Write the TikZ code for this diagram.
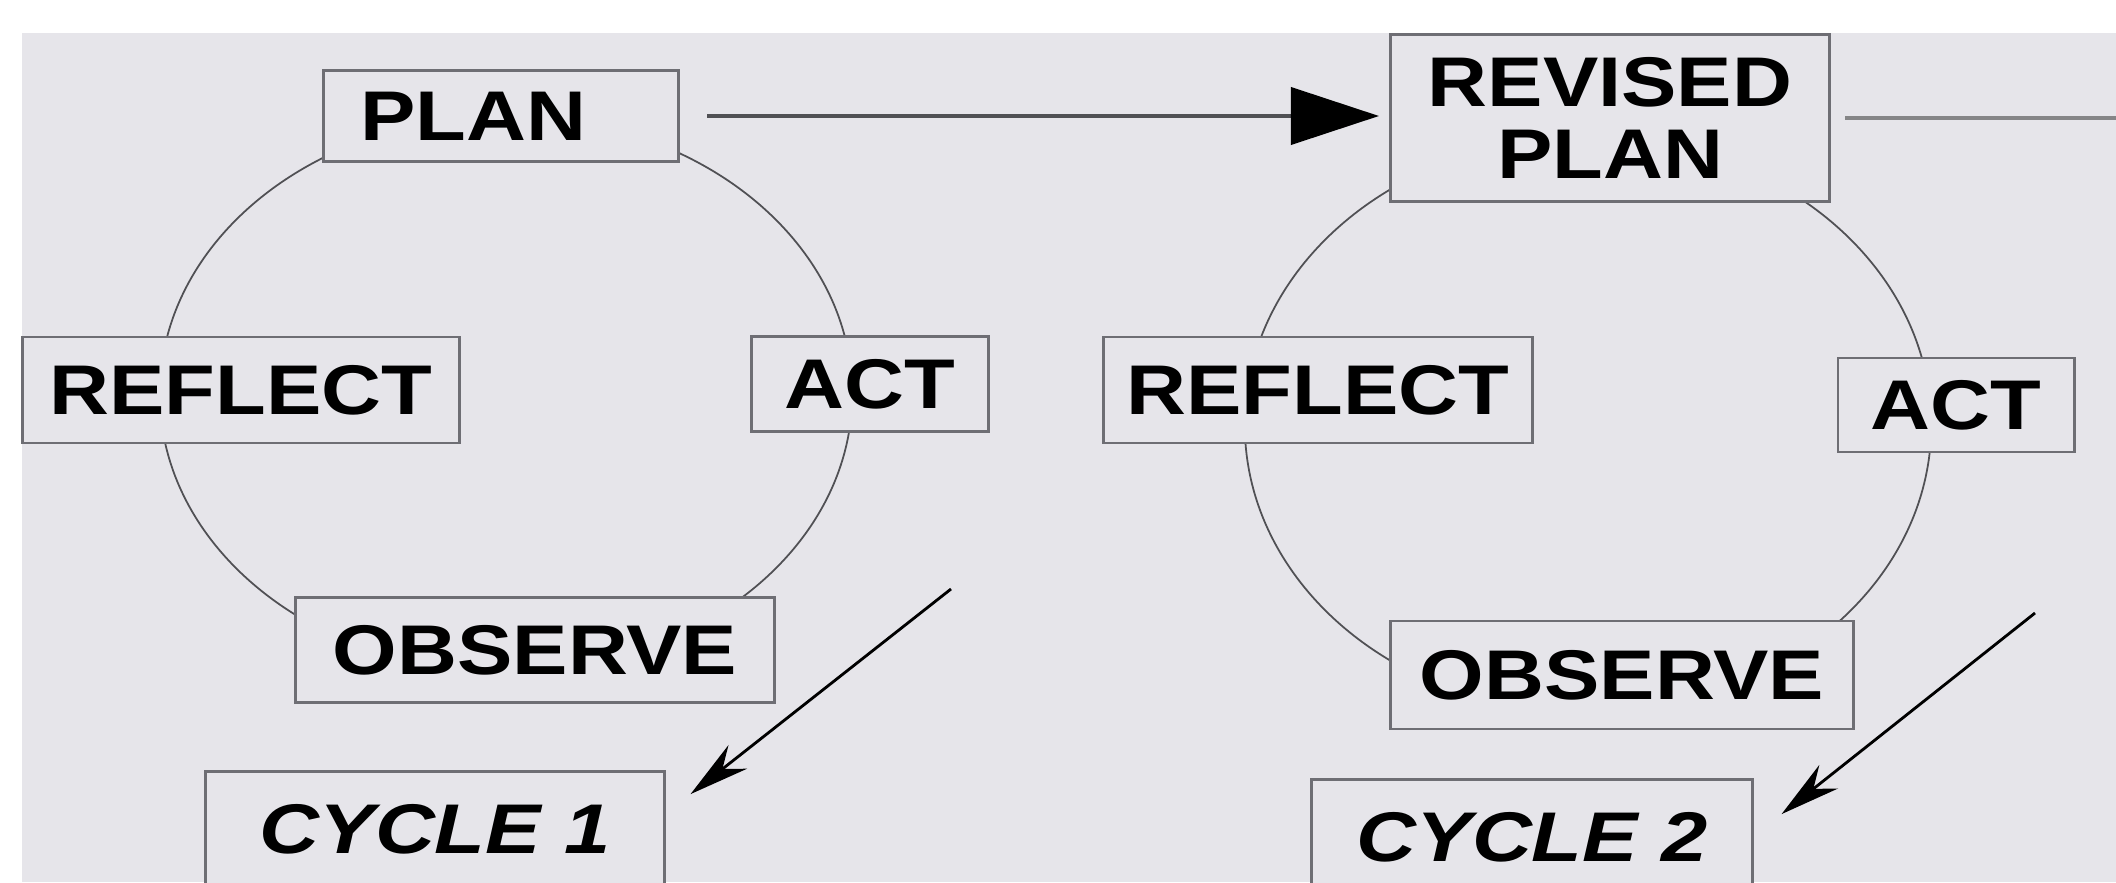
\documentclass[tikz,border=0pt]{standalone}
\usepackage{fontspec}
\setmainfont{Liberation Sans}[FakeStretch=1.18]
\usetikzlibrary{arrows.meta}
\definecolor{paper}{RGB}{230,229,234}
\definecolor{rim}{RGB}{110,110,116}
\definecolor{wire}{RGB}{80,80,84}
\tikzset{
  stage/.style={draw=rim, line width=0.8pt, fill=paper, inner sep=0pt, align=center,
    font=\fontsize{20}{20.5}\selectfont\bfseries},
  tag/.style={stage, font=\fontsize{20}{20.5}\selectfont\bfseries\itshape}
}
\begin{document}
\begin{tikzpicture}[x=0.01cm, y=-0.01cm]

      \useasboundingbox (0,0) rectangle (2116,882);
      \fill[paper] (22,33) rectangle (2116,882);

      \coordinate (hub1) at (506,394);
      \coordinate (hub2) at (1588,425);
      \draw[wire, line width=0.5pt] (hub1) ellipse [x radius=3.46cm, y radius=2.78cm];
      \draw[wire, line width=0.5pt] (hub2) ellipse [x radius=3.43cm, y radius=2.88cm];

      \node[stage, minimum width=3.55cm, minimum height=0.91cm] (plan1) at (501,116) {PLAN\hspace{0.56cm}};
      \node[stage, minimum width=4.37cm, minimum height=1.06cm] (reflect1) at (241,390) {REFLECT};
      \node[stage, minimum width=2.37cm, minimum height=0.95cm] (act1) at (870,384) {ACT};
      \node[stage, minimum width=4.79cm, minimum height=1.05cm] (observe1) at (535,650) {OBSERVE};
      \node[tag, minimum width=4.58cm, minimum height=1.15cm] (cycle1) at (435,829) {CYCLE 1};

      \node[stage, minimum width=4.39cm, minimum height=1.67cm] (plan2) at (1610,118) {REVISED\\PLAN};
      \node[stage, minimum width=4.28cm, minimum height=1.06cm] (reflect2) at (1318,390) {REFLECT};
      \node[stage, minimum width=2.36cm, minimum height=0.94cm] (act2) at (1956,405) {ACT};
      \node[stage, minimum width=4.63cm, minimum height=1.08cm] (observe2) at (1622,675) {OBSERVE};
      \node[tag, minimum width=4.40cm, minimum height=1.15cm] (cycle2) at (1532,837) {CYCLE 2};

      \draw[wire, line width=1.1pt, -{Triangle[length=0.88cm, width=0.57cm, color=black]},
        shorten <=0.27cm, shorten >=0.1cm] (plan1.east) -- (plan1.east -| plan2.west);
      \coordinate (beyond) at (2116,118);
      \draw[wire!70, line width=1.1pt, shorten <=0.14cm] (plan2.east) -- (beyond);

      \coordinate (tail1) at (951,589);
      \coordinate (tail2) at (2035,613);
      \draw[black, line width=0.8pt, -{Stealth[length=0.6cm, width=0.3cm]}]
        (tail1) -- ([shift={(0.25cm,-0.24cm)}]cycle1.north east);
      \draw[black, line width=0.8pt, -{Stealth[length=0.6cm, width=0.3cm]}]
        (tail2) -- ([shift={(0.28cm,-0.36cm)}]cycle2.north east);

    \end{tikzpicture}
\end{document}
